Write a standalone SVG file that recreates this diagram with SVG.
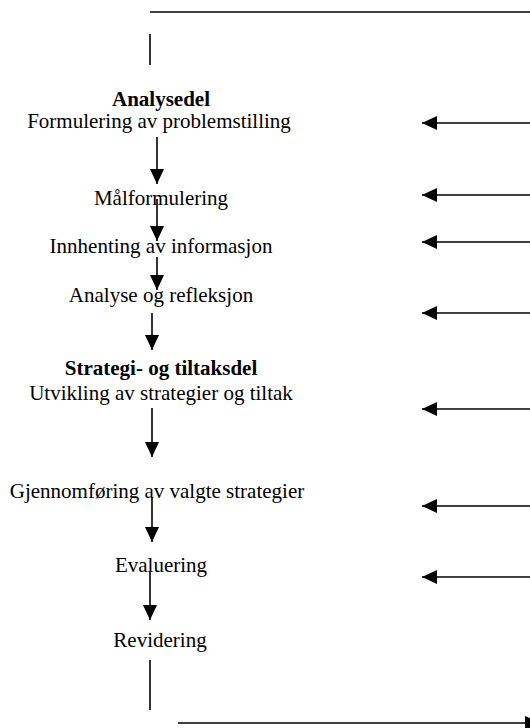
<svg xmlns="http://www.w3.org/2000/svg" width="530" height="728" viewBox="0 0 530 728">
  <defs>
    <style>
      .t { font-family: "Liberation Serif", "Times New Roman", serif; font-size: 21px; fill: #000; text-anchor: middle; }
      .b { font-weight: bold; }
      .ln { stroke: #000; stroke-width: 1.6; fill: none; }
    </style>
    <marker id="ah" viewBox="0 0 15 14" refX="15" refY="7" markerWidth="15" markerHeight="14" markerUnits="userSpaceOnUse" orient="auto">
      <path d="M0,0 L15,7 L0,14 Z" fill="#000"/>
    </marker>
  </defs>

  <!-- feedback loop and arrows -->
  <g id="connectors">
    <line class="ln" x1="150" y1="12" x2="530" y2="12"/>
    <line class="ln" x1="150" y1="34" x2="150" y2="65"/>
    <line class="ln" x1="150" y1="660" x2="150" y2="710"/>
    <line class="ln" x1="178" y1="723" x2="540" y2="723" marker-end="url(#ah)"/>

    <!-- incoming arrows from the right -->
    <line class="ln" x1="530" y1="123" x2="422" y2="123" marker-end="url(#ah)"/>
    <line class="ln" x1="530" y1="195" x2="422" y2="195" marker-end="url(#ah)"/>
    <line class="ln" x1="530" y1="242" x2="422" y2="242" marker-end="url(#ah)"/>
    <line class="ln" x1="530" y1="313" x2="422" y2="313" marker-end="url(#ah)"/>
    <line class="ln" x1="530" y1="409" x2="422" y2="409" marker-end="url(#ah)"/>
    <line class="ln" x1="530" y1="506" x2="422" y2="506" marker-end="url(#ah)"/>
    <line class="ln" x1="530" y1="577" x2="422" y2="577" marker-end="url(#ah)"/>

    <!-- downward flow -->
    <line class="ln" x1="157" y1="137" x2="157" y2="184" marker-end="url(#ah)"/>
    <line class="ln" x1="157" y1="199" x2="157" y2="241" marker-end="url(#ah)"/>
    <line class="ln" x1="157" y1="257" x2="157" y2="290" marker-end="url(#ah)"/>
    <line class="ln" x1="152" y1="313" x2="152" y2="350" marker-end="url(#ah)"/>
    <line class="ln" x1="152" y1="408" x2="152" y2="457" marker-end="url(#ah)"/>
    <line class="ln" x1="152" y1="497" x2="152" y2="542" marker-end="url(#ah)"/>
    <line class="ln" x1="150" y1="572" x2="150" y2="620" marker-end="url(#ah)"/>
  </g>

  <g id="analysedel">
    <text class="t b" x="161" y="106">Analysedel</text>
    <text class="t" x="159" y="128">Formulering av problemstilling</text>
  </g>
  <g id="malformulering">
    <text class="t" x="161" y="205">Målformulering</text>
  </g>
  <g id="innhenting">
    <text class="t" x="161" y="253">Innhenting av informasjon</text>
  </g>
  <g id="analyse">
    <text class="t" x="161" y="302">Analyse og refleksjon</text>
  </g>
  <g id="strategidel">
    <text class="t b" x="161" y="375">Strategi- og tiltaksdel</text>
    <text class="t" x="161" y="400">Utvikling av strategier og tiltak</text>
  </g>
  <g id="gjennomforing">
    <text class="t" x="157" y="498">Gjennomføring av valgte strategier</text>
  </g>
  <g id="evaluering">
    <text class="t" x="161" y="572">Evaluering</text>
  </g>
  <g id="revidering">
    <text class="t" x="160" y="647">Revidering</text>
  </g>
</svg>
